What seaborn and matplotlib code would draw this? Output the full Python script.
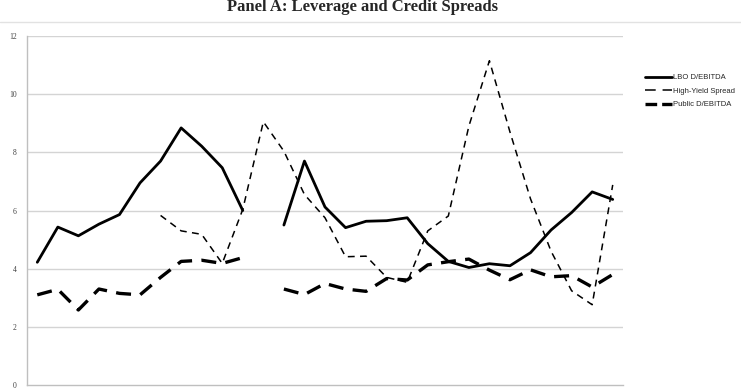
import pandas as pd
import numpy as np
import seaborn as sns
import matplotlib.pyplot as plt
from matplotlib.lines import Line2D

# Data (29 periods, None = gap)
lbo_debitda = [4.22, 5.43, 5.13, 5.53, 5.86, 6.95, 7.70, 8.84, 8.21, 7.47, 6.00,
               None, 5.50, 7.70, 6.12, 5.41, 5.63, 5.65, 5.75, 4.86, 4.25, 4.04,
               4.17, 4.10, 4.55, 5.33, 5.93, 6.64, 6.38]
high_yield = [None, None, None, None, None, None, 5.83, 5.30, 5.18, 4.18, 6.04,
              9.05, 8.04, 6.55, 5.75, 4.41, 4.43, 3.70, 3.53, 5.30, 5.81, 8.90,
              11.15, 8.70, 6.40, 4.60, 3.24, 2.76, 6.88]
public_debitda = [3.10, 3.29, 2.58, 3.30, 3.15, 3.10, 3.70, 4.25, 4.29, 4.18, 4.38,
                  None, 3.30, 3.11, 3.49, 3.30, 3.22, 3.66, 3.61, 4.13, 4.24, 4.33,
                  3.95, 3.62, 3.96, 3.72, 3.76, 3.37, 3.80]
series_names = ["LBO D/EBITDA", "High-Yield Spread", "Public D/EBITDA"]
y_ticks = [0, 2, 4, 6, 8, 10, 12]

n = len(lbo_debitda)


def to_frame(values):
    df = pd.DataFrame({"period": np.arange(n), "value": values})
    df["value"] = pd.to_numeric(df["value"])
    df["seg"] = df["value"].isna().cumsum()  # break line at gaps
    return df.dropna()


sns.set_style("white")
plt.rcParams["font.family"] = ["Liberation Sans", "DejaVu Sans"]

fig = plt.figure(figsize=(7.41, 3.89), dpi=100)
ax = fig.add_axes([27 / 741, 1 - 385 / 389, 596 / 741, 349 / 389])

# faint chart border line under the title
fig.add_artist(Line2D([0, 1], [1 - 22 / 389] * 2, color="#e2e2e2", lw=1.0,
                      transform=fig.transFigure))

grid_c = "#d4d4d4"
for y in y_ticks[1:]:
    ax.axhline(y, color=grid_c, lw=1.0, zorder=0)

styles = [
    dict(lw=2.0, ls="-"),
    dict(lw=1.1, ls=(0, (4.5, 3.5))),
    dict(lw=2.4, ls=(0, (4.5, 2.8))),
]
for vals, st in zip([lbo_debitda, high_yield, public_debitda], styles):
    sns.lineplot(data=to_frame(vals), x="period", y="value", units="seg",
                 estimator=None, color="black", linewidth=st["lw"],
                 linestyle=st["ls"], ax=ax, legend=False)

ax.set_xlim(-0.5, n - 0.5)
ax.set_ylim(0, 12)
ax.set_xticks(np.arange(-0.5, n, 1.0))
ax.set_xticklabels([])
ax.set_yticks(y_ticks)
ax.set_yticklabels([str(t) for t in y_ticks],
                   family=["Liberation Serif", "DejaVu Serif"])
ax.set_xlabel("")
ax.set_ylabel("")
ax.tick_params(axis="x", length=3, width=0.8, color="#bfbfbf", direction="out")
ax.tick_params(axis="y", length=3, width=0.8, color="#bfbfbf", labelsize=5.5,
               labelcolor="#404040", pad=4.5)
for s in ["top", "right"]:
    ax.spines[s].set_visible(False)
for s in ["left", "bottom"]:
    ax.spines[s].set_color("#bfbfbf")
    ax.spines[s].set_linewidth(1.0)

# legend handles: dash patterns chosen so each shows two whole dashes
legend_ls = ["-", (0, (7, 4.5)), (0, (3.5, 1.5))]
handles = [Line2D([], [], color="black", lw=st["lw"], ls=ls)
           for st, ls in zip(styles, legend_ls)]
fig.legend(handles, series_names, loc="upper left",
           bbox_to_anchor=(645 / 741, 1 - 74 / 389), frameon=False,
           fontsize=5.5, handlelength=3.5, handletextpad=0.2, labelspacing=0.8,
           borderaxespad=0, borderpad=0)

fig.text(0.489, 0.982, "Panel A: Leverage and Credit Spreads", ha="center",
         va="center", fontsize=12, fontweight="bold",
         family=["Liberation Serif", "DejaVu Serif"])

fig.savefig("out.png", dpi=100)
